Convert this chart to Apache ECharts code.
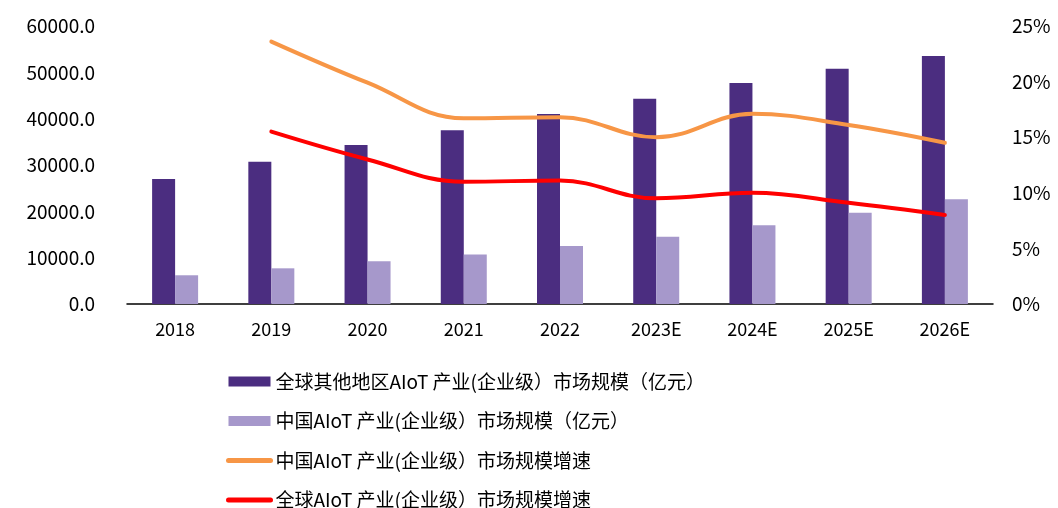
<!DOCTYPE html>
<html>
<head>
<meta charset="utf-8">
<script src="https://cdn.jsdelivr.net/npm/echarts@6/dist/echarts.min.js"></script>
<style>
html, body { margin: 0; padding: 0; background: #fff; }
#chart { width: 1058px; height: 508px; }
</style>
</head>
<body>
<div id="chart"></div>
<script>
let years = ['2018', '2019', '2020', '2021', '2022', '2023E', '2024E', '2025E', '2026E']
let otherMarket = [27000, 30700, 34300, 37500, 41000, 44300, 47700, 50800, 53500]
let chinaMarket = [6200, 7700, 9200, 10700, 12500, 14500, 17000, 19700, 22600]
let chinaGrowth = ['-', 23.6, 19.9, 16.7, 16.8, 15.0, 17.1, 16.1, 14.5]
let globalGrowth = ['-', 15.5, 13.0, 11.0, 11.1, 9.5, 10.0, 9.1, 8.0]
let leftTicks = [0, 10000, 20000, 30000, 40000, 50000, 60000]
let rightTicks = [0, 5, 10, 15, 20, 25]

let names = [
  '全球其他地区AIoT 产业(企业级）市场规模（亿元）',
  '中国AIoT 产业(企业级）市场规模（亿元）',
  '中国AIoT 产业(企业级）市场规模增速',
  '全球AIoT 产业(企业级）市场规模增速'
]

let font = '"Noto Sans CJK SC", sans-serif'
let ch = echarts.init(document.getElementById('chart'))

let option = {
  animation: false,
  textStyle: { fontFamily: font },
  grid: {
    left: 127,
    right: 65,
    top: 26,
    bottom: 204
  },
  legend: {
    orient: 'vertical',
    left: 226,
    top: 372,
    height: 200,
    padding: 0,
    itemWidth: 42,
    itemHeight: 10,
    itemGap: 20.5,
    textStyle: {
      color: '#000',
      fontSize: 19,
      fontFamily: font
    },
    data: [
      { name: names[0], icon: 'rect' },
      { name: names[1], icon: 'rect' },
      { name: names[2], itemStyle: { opacity: 0 }, lineStyle: { width: 5, cap: 'round' } },
      { name: names[3], itemStyle: { opacity: 0 }, lineStyle: { width: 5, cap: 'round' } }
    ]
  },
  xAxis: {
    type: 'category',
    data: years,
    axisLine: {
      lineStyle: { color: '#000', width: 1.5 }
    },
    axisTick: {
      inside: true,
      length: 5,
      lineStyle: { color: '#000', width: 1.5 }
    },
    axisLabel: {
      color: '#000',
      fontSize: 18,
      margin: 16
    }
  },
  yAxis: [
    {
      type: 'value',
      min: leftTicks[0],
      max: leftTicks[leftTicks.length - 1],
      interval: 10000,
      axisLine: { show: false },
      axisTick: { show: false },
      splitLine: { show: false },
      axisLabel: {
        color: '#000',
        fontSize: 19,
        margin: 32,
        formatter: v => v.toFixed(1)
      }
    },
    {
      type: 'value',
      min: rightTicks[0],
      max: rightTicks[rightTicks.length - 1],
      interval: 5,
      axisLine: { show: false },
      axisTick: { show: false },
      splitLine: { show: false },
      axisLabel: {
        color: '#000',
        fontSize: 19,
        margin: 19,
        formatter: '{value}%'
      }
    }
  ],
  series: [
    {
      name: names[0],
      type: 'bar',
      data: otherMarket,
      barWidth: 23,
      barGap: '0%',
      itemStyle: { color: '#4B2D80' }
    },
    {
      name: names[1],
      type: 'bar',
      data: chinaMarket,
      barWidth: 23,
      barGap: '0%',
      itemStyle: { color: '#A698CB' }
    },
    {
      name: names[2],
      type: 'line',
      yAxisIndex: 1,
      data: chinaGrowth,
      smooth: 0.4,
      symbol: 'none',
      lineStyle: { color: '#F79646', width: 4, cap: 'round' },
      itemStyle: { color: '#F79646' }
    },
    {
      name: names[3],
      type: 'line',
      yAxisIndex: 1,
      data: globalGrowth,
      smooth: 0.4,
      symbol: 'none',
      lineStyle: { color: '#FF0000', width: 4, cap: 'round' },
      itemStyle: { color: '#FF0000' }
    }
  ]
}
ch.setOption(option)
</script>
</body>
</html>
